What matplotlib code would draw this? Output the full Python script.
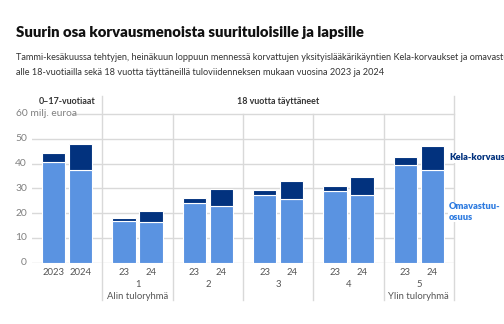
import matplotlib
matplotlib.use("Agg")
import numpy as np
from matplotlib import pyplot as plt
from matplotlib import transforms

# Data (milj. euroa)
groups = ["0-17", "1", "2", "3", "4", "5"]
omavastuu_2023 = [40.8, 16.8, 24.0, 27.3, 28.9, 39.5]
omavastuu_2024 = [37.3, 16.3, 22.9, 25.6, 27.3, 37.4]
kela_2023 = [3.4, 1.1, 2.0, 1.8, 2.1, 3.1]
kela_2024 = [10.5, 4.6, 6.7, 7.3, 7.3, 9.8]
year_labels_first = ["2023", "2024"]
year_labels_other = ["23", "24"]
group_labels = ["", "1\nAlin tuloryhmä", "2", "3", "4", "5\nYlin tuloryhmä"]
y_ticks = [0, 10, 20, 30, 40, 50]

W, H = 504, 324
LIGHT = "#5a93e1"
DARK = "#02327e"
GRID = "#d9d9d9"
TEXT = "#555555"

plt.rcParams["font.family"] = ["Lato", "DejaVu Sans"]

fig = plt.figure(figsize=(W / 100, H / 100), dpi=100)


def fx(x):
    return x / W


def fy(y):
    return 1 - y / H


# axes box in pixels: x 32..454, value 0 at y=262.5, 60 at y=114
ax = fig.add_axes([fx(32), fy(262.5), fx(454) - fx(32), fy(114) - fy(262.5)])
ax.set_xlim(-0.5, 5.5)
ax.set_ylim(0, 60)
for s in ax.spines.values():
    s.set_visible(False)

x = np.arange(len(groups))
off = 0.192
w = 0.33
for xs, om, ke in [(x - off, omavastuu_2023, kela_2023), (x + off, omavastuu_2024, kela_2024)]:
    ax.bar(xs, om, width=w, color=LIGHT, edgecolor="white", linewidth=0.8, zorder=3)
    ax.bar(xs, ke, bottom=om, width=w, color=DARK, edgecolor="white", linewidth=0.8, zorder=3)

# horizontal grid
for v in y_ticks:
    ax.axhline(v, color=GRID, linewidth=1, zorder=1)
    fig.text(fx(27), fy(262.5 - v * 2.475), str(v), ha="right", va="center",
             fontsize=7.4, color="#808080")
ax.plot([(72 - 32) / 422, 1], [1, 1], transform=ax.transAxes, color=GRID,
        linewidth=1, zorder=1, clip_on=False)
fig.text(fx(16), fy(114), "60 milj. euroa", ha="left", va="center",
         fontsize=7.4, color="#808080")

# group separators
blend = transforms.blended_transform_factory(ax.transData, ax.transAxes)
top_long = (262.5 - 96) / 148.5
bottom = (262.5 - 300) / 148.5
for i, xv in enumerate([0.5, 1.5, 2.5, 3.5, 4.5, 5.5]):
    top = top_long if i in (0, 5) else 1.0
    ax.plot([xv, xv], [bottom, top], transform=blend, color=GRID,
            linewidth=1, zorder=1, clip_on=False)

# x tick labels
ticks = list(x - off) + list(x + off)
labels = [year_labels_first[0]] + [year_labels_other[0]] * 5 + \
         [year_labels_first[1]] + [year_labels_other[1]] * 5
ax.set_xticks(ticks)
ax.set_xticklabels(labels, fontsize=6.8, color=TEXT)
ax.tick_params(axis="x", length=0, pad=4)
ax.set_yticks([])

for i, lab in enumerate(group_labels):
    if lab:
        ax.text(x[i], -0.12, lab, transform=blend, ha="center", va="top",
                fontsize=6.8, color=TEXT, linespacing=1.4)

# group headers
ax.text(0, (262.5 - 101) / 148.5, "0–17-vuotiaat", transform=blend,
        ha="center", va="center", fontsize=6.4, fontweight="bold", color="#333333")
ax.text(3, (262.5 - 101) / 148.5, "18 vuotta täyttäneet", transform=blend,
        ha="center", va="center", fontsize=6.4, fontweight="bold", color="#333333")

# series labels
fig.text(fx(449), fy(158), "Kela-korvaus", ha="left", va="center", fontsize=6.7,
         fontweight="heavy", color=DARK,
         bbox=dict(facecolor="white", edgecolor="none", pad=0.5))
fig.text(fx(449), fy(212), "Omavastuu-\nosuus", ha="left", va="center",
         fontsize=6.7, fontweight="heavy", color="#2f7ce0", linespacing=1.2,
         bbox=dict(facecolor="white", edgecolor="none", pad=0.5))

# title and subtitle
fig.text(fx(16), fy(37), "Suurin osa korvausmenoista suurituloisille ja lapsille",
         ha="left", va="baseline", fontsize=10.7, fontweight="heavy", color="#111111")
fig.text(fx(16), fy(60),
         "Tammi-kesäkuussa tehtyjen, heinäkuun loppuun mennessä korvattujen "
         "yksityislääkärikäyntien Kela-korvaukset ja omavastuuosuudet",
         ha="left", va="baseline", fontsize=6.6, color="#333333")
fig.text(fx(16), fy(75),
         "alle 18-vuotiailla sekä 18 vuotta täyttäneillä tuloviidenneksen "
         "mukaan vuosina 2023 ja 2024",
         ha="left", va="baseline", fontsize=6.6, color="#333333")

fig.savefig("out.png", dpi=100, facecolor="white")
